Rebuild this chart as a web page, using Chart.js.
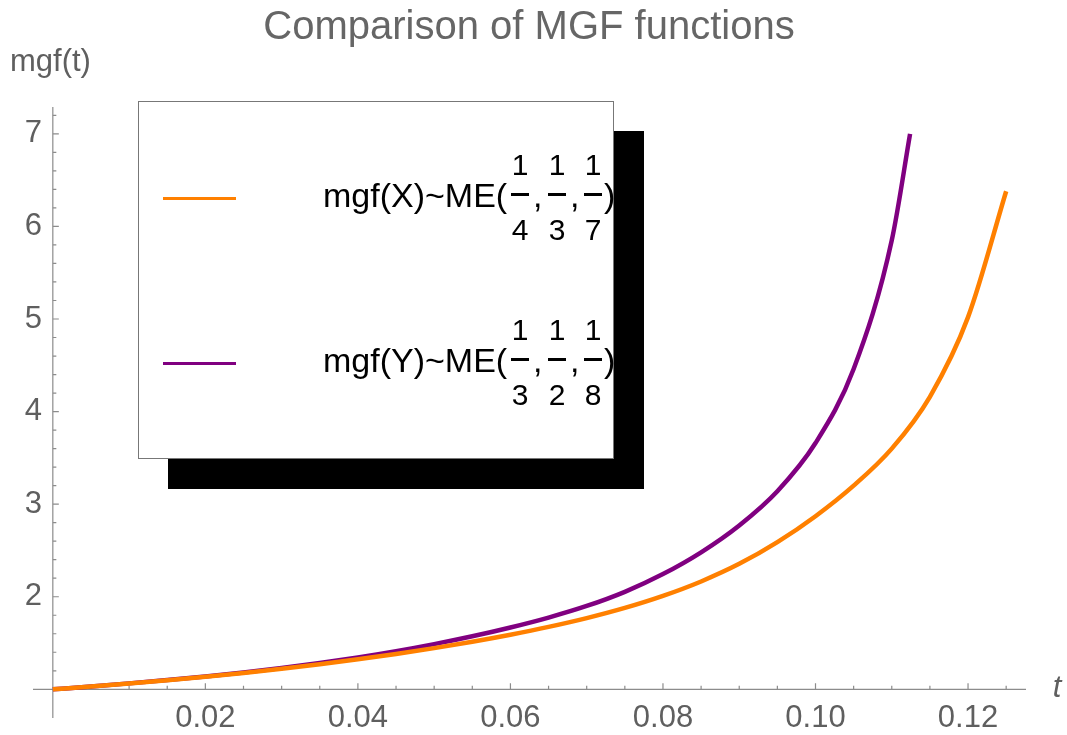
<!DOCTYPE html>
<html>
<head>
<meta charset="utf-8">
<script src="https://cdn.jsdelivr.net/npm/chart.js@4.4.0/dist/chart.umd.min.js"></script>
<style>
  html, body { margin: 0; padding: 0; background: #fff; }
  #wrap { position: relative; width: 1067px; height: 735px; }
  #legend {
    position: absolute; left: 138px; top: 101px; width: 474px; height: 356px;
    background: #fff; border: 1px solid #777; box-shadow: 30px 30px 0 #000;
    font-family: "Liberation Sans", Arial, sans-serif; color: #000;
  }
  #legend span, #legend div { position: absolute; white-space: nowrap; }
</style>
</head>
<body>
<div id="wrap">
  <canvas id="mgfChart" width="1067" height="735"></canvas>
  <div id="legend"></div>
</div>
<script>
// values
const tX = [0, 0.005, 0.01, 0.015, 0.02, 0.025, 0.03, 0.035, 0.04, 0.045, 0.05, 0.055, 0.06,
            0.065, 0.07, 0.075, 0.08, 0.085, 0.09, 0.095, 0.10, 0.105, 0.11, 0.115, 0.12, 0.125];
const mgfX = [1, 1.030, 1.0625, 1.098, 1.136, 1.177, 1.222, 1.271, 1.324, 1.382, 1.445, 1.514, 1.590,
              1.674, 1.769, 1.879, 2.009, 2.165, 2.355, 2.59, 2.87, 3.20, 3.60, 4.16, 5.02, 6.38];

const tY = [0, 0.005, 0.01, 0.015, 0.02, 0.025, 0.03, 0.035, 0.04, 0.045, 0.05, 0.055, 0.06,
            0.065, 0.07, 0.075, 0.08, 0.085, 0.09, 0.095, 0.10, 0.105, 0.11, 0.1124];
const mgfY = [1, 1.030, 1.064, 1.100, 1.139, 1.182, 1.229, 1.283, 1.344, 1.412, 1.488, 1.573, 1.668,
              1.775, 1.90, 2.053, 2.245, 2.48, 2.77, 3.14, 3.66, 4.46, 5.85, 7.0];

const xTicks = [0.02, 0.04, 0.06, 0.08, 0.10, 0.12];
const xTickLabels = ["0.02", "0.04", "0.06", "0.08", "0.10", "0.12"];
const yTicks = [2, 3, 4, 5, 6, 7];

const seriesNames = ["mgf(X)~ME(", "mgf(Y)~ME("];
const seriesDenoms = [["4", "3", "7"], ["3", "2", "8"]];
const seriesColors = ["#ff8000", "#800080"];

const labelColor = "#5f5f5f";
const axisColor = "#8c8c8c";

// ------------------ axes, ticks, title (Mathematica style) ------------------
const mathAxes = {
    id: "mathAxes",
    beforeDatasetsDraw(chart) {
        const ctx = chart.ctx;
        const xs = chart.scales.x, ys = chart.scales.y;
        const x0 = xs.getPixelForValue(0), y1 = ys.getPixelForValue(1);
        ctx.save();
        ctx.strokeStyle = axisColor;
        ctx.lineWidth = 1.2;
        ctx.beginPath();
        ctx.moveTo(xs.left, y1); ctx.lineTo(xs.right, y1);
        ctx.moveTo(x0, ys.top); ctx.lineTo(x0, ys.bottom);
        ctx.stroke();

        // minor + major ticks on x
        ctx.beginPath();
        for (let k = 1; k <= 25; k++) {
            const px = xs.getPixelForValue(k * 0.005);
            const len = (k % 4 === 0) ? 6 : 3.5;
            ctx.moveTo(px, y1); ctx.lineTo(px, y1 - len);
        }
        // minor + major ticks on y
        for (let k = 1; k <= 31; k++) {
            const py = ys.getPixelForValue(1 + k * 0.2);
            const len = (k % 5 === 0) ? 6 : 3.5;
            ctx.moveTo(x0, py); ctx.lineTo(x0 + len, py);
        }
        ctx.stroke();

        ctx.fillStyle = labelColor;
        ctx.font = "31px 'Liberation Sans', Arial, sans-serif";
        ctx.textAlign = "center";
        ctx.textBaseline = "middle";
        xTicks.forEach((v, i) => ctx.fillText(xTickLabels[i], xs.getPixelForValue(v), 718));
        ctx.textAlign = "right";
        yTicks.forEach(v => ctx.fillText(String(v), 42, ys.getPixelForValue(v)));

        // axis labels
        ctx.font = "31px 'Liberation Sans', Arial, sans-serif";
        ctx.textAlign = "left";
        ctx.fillText("mgf(t)", 10, 62);
        ctx.font = "italic 31px 'Liberation Sans', Arial, sans-serif";
        ctx.textAlign = "center";
        ctx.fillText("t", 1057, 688);

        // title
        ctx.font = "40px 'Liberation Sans', Arial, sans-serif";
        ctx.fillStyle = "#666666";
        ctx.textBaseline = "alphabetic";
        ctx.fillText("Comparison of MGF functions", 529, 39);
        ctx.restore();
    }
};

new Chart(document.getElementById("mgfChart"), {
    type: "line",
    data: {
        datasets: [{
            label: "X",
            data: tX.map((t, i) => ({ x: t, y: mgfX[i] })),
            borderColor: seriesColors[0],
            borderWidth: 4.5,
            pointRadius: 0,
            cubicInterpolationMode: "monotone"
        }, {
            label: "Y",
            data: tY.map((t, i) => ({ x: t, y: mgfY[i] })),
            borderColor: seriesColors[1],
            borderWidth: 4.5,
            pointRadius: 0,
            cubicInterpolationMode: "monotone"
        }]
    },
    options: {
        responsive: false,
        animation: false,
        layout: { padding: { left: 33, right: 41, top: 107, bottom: 17 } },
        plugins: { legend: { display: false }, tooltip: { enabled: false } },
        scales: {
            x: { type: "linear", min: -0.0026, max: 0.1276, display: false },
            y: { type: "linear", min: 0.69, max: 7.29, display: false }
        }
    },
    plugins: [mathAxes]
});

// ------------------ legend box with fractions ------------------
const legend = document.getElementById("legend");
function put(text, css) {
    const el = document.createElement("span");
    el.textContent = text;
    Object.assign(el.style, css);
    legend.appendChild(el);
    return el;
}
const fracX = [381, 418, 454];
seriesNames.forEach((name, r) => {
    const off = r * 165;
    const line = document.createElement("div");
    Object.assign(line.style, { left: "24px", top: (95 + off) + "px", width: "73px", height: "3px", background: seriesColors[r] });
    legend.appendChild(line);
    put(name, { left: "184px", top: (76 + off) + "px", fontSize: "34px", lineHeight: "34px" });
    seriesDenoms[r].forEach((d, j) => {
        const cx = fracX[j];
        put("1", { left: (cx - 20) + "px", width: "40px", textAlign: "center", top: (48 + off) + "px", fontSize: "30px", lineHeight: "30px" });
        put(d, { left: (cx - 20) + "px", width: "40px", textAlign: "center", top: (113 + off) + "px", fontSize: "30px", lineHeight: "30px" });
        const bar = document.createElement("div");
        Object.assign(bar.style, { left: (cx - 9) + "px", top: (91 + off) + "px", width: "18px", height: "2.5px", background: "#000" });
        legend.appendChild(bar);
        if (j < 2) put(",", { left: (cx + 13) + "px", top: (76 + off) + "px", fontSize: "34px", lineHeight: "34px" });
    });
    put(")", { left: "465px", top: (76 + off) + "px", fontSize: "34px", lineHeight: "34px" });
});
</script>
</body>
</html>
